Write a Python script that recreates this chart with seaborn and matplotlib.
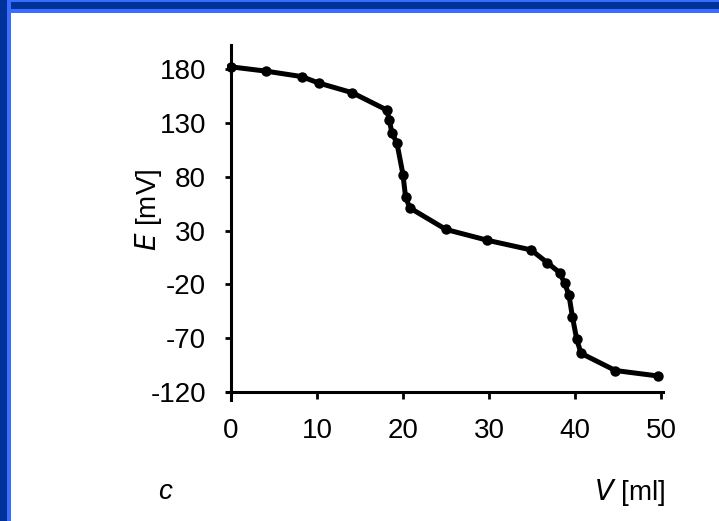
import matplotlib
matplotlib.use("Agg")
import matplotlib.pyplot as plt
import matplotlib.patches as mpatches
import seaborn as sns
import pandas as pd

# Potentiometric titration curve: electrode potential vs. titrant volume
volume_ml = [0, 4.1, 8.2, 10.2, 14.1, 18.1, 18.4, 18.7, 19.3, 20.0, 20.3, 20.8,
             25.0, 29.8, 34.9, 36.8, 38.2, 38.8, 39.3, 39.7, 40.2, 40.7, 44.7, 49.6]
potential_mv = [182, 178, 173, 167, 158, 142, 133, 121, 111, 82, 61, 51,
                31, 21, 12, 0, -9, -19, -30, -50, -71, -84, -100, -105]
x_ticks = [0, 10, 20, 30, 40, 50]
y_ticks = [180, 130, 80, 30, -20, -70, -120]

df = pd.DataFrame({"V": volume_ml, "E": potential_mv})

sns.set_style("white")
plt.rcParams["font.family"] = ["Liberation Sans", "DejaVu Sans"]

fig = plt.figure(figsize=(7.19, 5.21), dpi=100)
fig.patch.set_facecolor("white")
ax = fig.add_axes([0.3153, 0.233, 0.6064, 0.680])
ax.set_facecolor("white")

sns.lineplot(data=df, x="V", y="E", ax=ax, color="black", linewidth=3.6,
             marker="o", markersize=7.5, markeredgewidth=0, sort=False)

ax.set_xlim(-0.5, 50.2)
ax.set_ylim(-127, 202)
ax.set_xticks(x_ticks)
ax.set_yticks(y_ticks)
ax.set_xticklabels([str(t) for t in x_ticks])
ax.set_yticklabels([str(t) for t in y_ticks])

for side in ("top", "right"):
    ax.spines[side].set_visible(False)
ax.spines["left"].set_position(("data", 0))
ax.spines["bottom"].set_position(("data", -120))
for side in ("left", "bottom"):
    ax.spines[side].set_linewidth(2.2)
    ax.spines[side].set_color("black")

ax.tick_params(axis="y", direction="out", length=4, width=2, pad=14,
               labelsize=20, colors="black", left=True)
ax.tick_params(axis="x", direction="out", length=5, width=2, pad=14,
               labelsize=20, colors="black", bottom=True)
ax.set_xlabel("")
ax.set_ylabel("")

# axis titles
fig.text(0.207, 0.597, r"$\mathit{E}$ [mV]", rotation=90, ha="center", va="center",
         fontsize=20, color="black")
fig.text(0.926, 0.055, r"$\mathit{V}$ [ml]", ha="right", va="center",
         fontsize=20, color="black")
fig.text(0.230, 0.055, "c", ha="center", va="center", fontsize=20,
         fontstyle="italic", color="black")

# slide frame along the top and left edges
W, H = 719, 521
def band(x0, y0, w, h, color):
    fig.patches.append(mpatches.Rectangle((x0 / W, 1 - (y0 + h) / H), w / W, h / H,
                                          transform=fig.transFigure, color=color,
                                          zorder=10, linewidth=0))
band(0, 0, W, 13, "#3a6cff")
band(0, 2, W, 7, "#003399")
band(0, 0, 11, H, "#3a6cff")
band(0, 0, 7, H, "#003399")

fig.savefig("out.png", dpi=100, facecolor="white")
